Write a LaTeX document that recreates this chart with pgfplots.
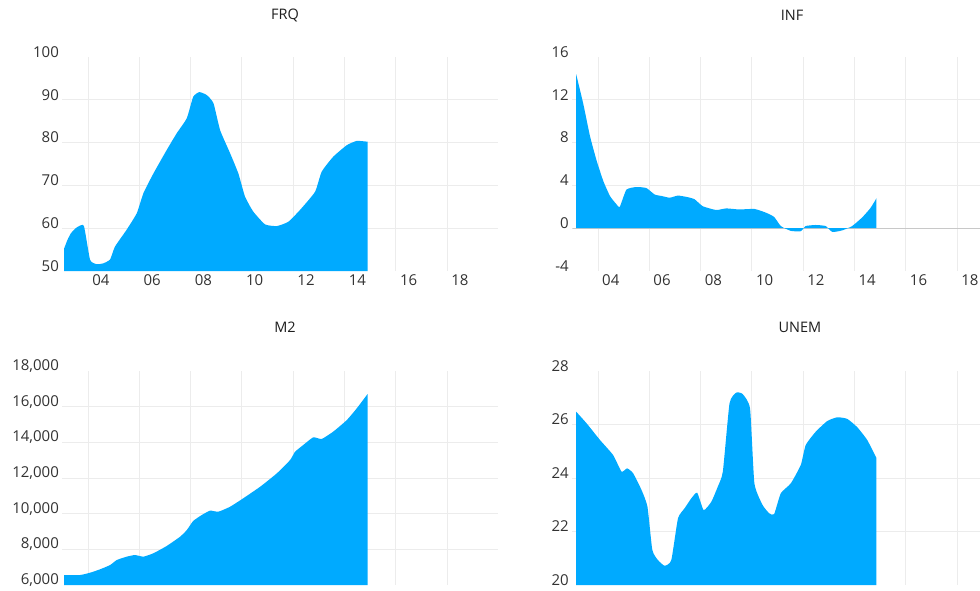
\documentclass[border=0pt]{standalone}
\usepackage{fontspec}
\setmainfont{Open Sans}
\usepackage{pgfplots}
\pgfplotsset{compat=1.18}
\definecolor{fillc}{RGB}{0,170,255}
\definecolor{gridc}{RGB}{236,236,236}
\definecolor{tickc}{RGB}{50,50,50}
\definecolor{zeroc}{RGB}{200,200,200}
\pgfplotsset{
  panel/.style={
    scale only axis, width=436pt, height=214pt, anchor=south west,
    xmin=2003, xmax=2020,
    axis line style={draw=none},
    major tick length=0pt, minor tick length=0pt,
    xtick={2004,2006,...,2018},
    xticklabels={04,06,08,10,12,14,16,18},
    xticklabel style={xshift=12.8pt, font=\fontsize{15}{17}\selectfont, text=tickc},
    yticklabel style={yshift=5pt, font=\fontsize{15}{17}\selectfont, text=tickc},
    xmajorgrids, ymajorgrids,
    grid style={gridc, line width=0.9pt},
    extra y tick style={grid=none},
    /pgf/number format/assume math mode=true,
    scaled y ticks=false,
    clip=true,
  },
  areaplot/.style={fill=fillc, draw=none, smooth, tension=0.3},
}
\begin{document}
\begin{tikzpicture}
\useasboundingbox (0,0) rectangle (980pt,590pt);
% FRQ
\begin{axis}[panel, at={(62.4pt,319pt)}, ymin=50, ymax=100,
  ytick={60,70,80,90}, extra y ticks={50,100}]
\addplot[areaplot] coordinates {
(2003.07,55.3) (2003.2,57.3) (2003.33,58.8) (2003.5,59.9) (2003.62,60.4) (2003.84,60.5) (2004.08,52.6) (2004.34,51.6) (2004.6,51.8) (2004.86,52.7) (2005.05,55.7) (2005.5,59.6) (2005.9,63.5) (2006.16,68.2) (2006.55,72.8) (2007.07,78.3) (2007.46,82.2) (2007.85,85.7) (2008.1,90.7) (2008.34,91.8) (2008.63,91.1) (2008.89,89.2) (2009.15,82.9) (2009.54,77.5) (2009.86,72.8) (2010.12,67.4) (2010.44,63.9) (2010.9,60.9) (2011.36,60.5) (2011.81,61.5) (2012.27,64.3) (2012.85,68.5) (2013.11,73.2) (2013.56,76.7) (2014.09,79.4) (2014.48,80.4) (2014.9,80.2)
} \closedcycle;
\end{axis}
% INF
\begin{axis}[panel, at={(572.3pt,319pt)}, ymin=-4, ymax=16,
  ytick={4,8,12}, extra y ticks={-4,0,16}]
\addplot[zeroc, line width=1.2pt] coordinates {(2003,0) (2020,0)};
\addplot[areaplot] coordinates {
(2003.15,14.4) (2003.43,11.6) (2003.69,8.6) (2003.95,6.3) (2004.21,4.4) (2004.47,3.0) (2004.7,2.3) (2004.85,2.0) (2005.11,3.6) (2005.5,3.85) (2005.89,3.75) (2006.21,3.15) (2006.5,3.0) (2006.8,2.85) (2007.12,3.05) (2007.5,2.9) (2007.77,2.7) (2008.09,2.05) (2008.61,1.7) (2009.0,1.85) (2009.51,1.75) (2010.1,1.8) (2010.55,1.45) (2010.87,1.05) (2011.13,0.2) (2011.52,-0.25) (2011.91,-0.28) (2012.1,0.2) (2012.49,0.3) (2012.88,0.2) (2013.14,-0.35) (2013.53,-0.2) (2013.91,0.2) (2014.3,1.0) (2014.63,1.9) (2014.86,2.8)
} \closedcycle;
\end{axis}
% M2
\begin{axis}[panel, at={(62.4pt,5pt)}, ymin=6000, ymax=18000,
  ytick={8000,10000,12000,14000,16000}, extra y ticks={6000,18000},
  xticklabels={}, /pgf/number format/1000 sep={,}]
\addplot[areaplot] coordinates {
(2003.07,6560) (2003.69,6560) (2004.08,6690) (2004.47,6880) (2004.86,7120) (2005.12,7400) (2005.51,7590) (2005.83,7680) (2006.16,7590) (2006.55,7780) (2007.07,8190) (2007.59,8710) (2007.85,9080) (2008.1,9590) (2008.43,9920) (2008.76,10170) (2009.08,10110) (2009.54,10390) (2010.05,10860) (2010.71,11510) (2011.36,12260) (2011.88,13010) (2012.07,13470) (2012.39,13850) (2012.78,14280) (2013.11,14190) (2013.56,14600) (2014.09,15250) (2014.48,15910) (2014.9,16710)
} \closedcycle;
\end{axis}
% UNEM
\begin{axis}[panel, at={(572.3pt,5pt)}, ymin=20, ymax=28,
  ytick={22,24,26}, extra y ticks={20,28}, xticklabels={}]
\addplot[areaplot] coordinates {
(2003.15,26.48) (2003.56,26.04) (2004.08,25.42) (2004.59,24.86) (2004.92,24.24) (2005.14,24.36) (2005.37,24.18) (2005.7,23.55) (2005.93,22.93) (2006.12,21.31) (2006.34,20.93) (2006.6,20.72) (2006.86,20.93) (2007.12,22.49) (2007.38,22.87) (2007.64,23.24) (2007.87,23.45) (2008.12,22.8) (2008.42,23.11) (2008.67,23.67) (2008.87,24.24) (2009.13,26.79) (2009.39,27.19) (2009.64,27.14) (2009.93,26.6) (2010.1,23.8) (2010.42,22.99) (2010.68,22.68) (2010.87,22.65) (2011.13,23.43) (2011.52,23.8) (2011.91,24.49) (2012.1,25.23) (2012.49,25.73) (2012.94,26.13) (2013.33,26.27) (2013.72,26.21) (2014.11,25.9) (2014.5,25.42) (2014.86,24.74)
} \closedcycle;
\end{axis}
% titles
\node[font=\fontsize{14.5}{17}\selectfont, text={rgb,255:red,30;green,30;blue,30}] at (285pt,575pt) {FRQ};
\node[font=\fontsize{14.5}{17}\selectfont, text={rgb,255:red,30;green,30;blue,30}] at (792pt,575pt) {INF};
\node[font=\fontsize{14.5}{17}\selectfont, text={rgb,255:red,30;green,30;blue,30}] at (285pt,263pt) {M2};
\node[font=\fontsize{14.5}{17}\selectfont, text={rgb,255:red,30;green,30;blue,30}] at (800pt,263pt) {UNEM};
\end{tikzpicture}
\end{document}
